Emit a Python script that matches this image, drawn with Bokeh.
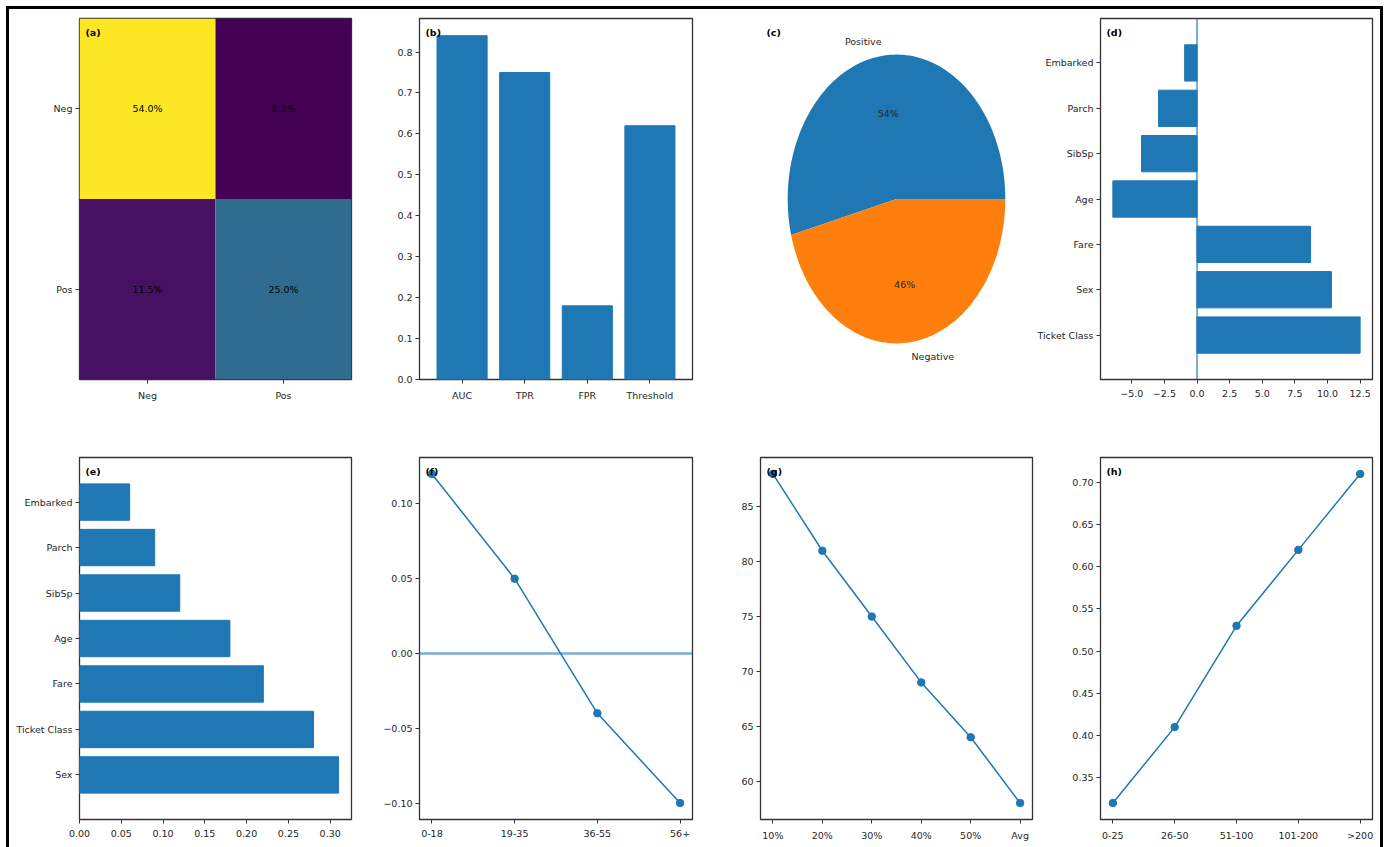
import numpy as np
from bokeh.plotting import figure
from bokeh.models import (FactorRange, Range1d, FixedTicker, CustomJSTickFormatter,
                          Label, Span, LinearColorMapper, ColumnDataSource)
from bokeh.layouts import column, row
from bokeh.palettes import Viridis256
from bokeh.embed import file_html
from bokeh.resources import INLINE
from bokeh.core.properties import value

# ---------------- data ----------------
cm_labels = ["Neg", "Pos"]
cm_actual = ["Neg", "Neg", "Pos", "Pos"]
cm_pred = ["Neg", "Pos", "Neg", "Pos"]
cm_pct = [54.0, 9.5, 11.5, 25.0]

metric_names = ["AUC", "TPR", "FPR", "Threshold"]
metric_vals = [0.84, 0.75, 0.18, 0.62]

pie_labels = ["Positive", "Negative"]
pie_vals = [54, 46]

feat_d = ["Ticket Class", "Sex", "Fare", "Age", "SibSp", "Parch", "Embarked"]
coef_d = [12.5, 10.3, 8.7, -6.45, -4.25, -2.95, -0.95]

feat_e = ["Sex", "Ticket Class", "Fare", "Age", "SibSp", "Parch", "Embarked"]
imp_e = [0.31, 0.28, 0.22, 0.18, 0.12, 0.09, 0.06]

age_groups = ["0-18", "19-35", "36-55", "56+"]
age_effect = [0.12, 0.05, -0.04, -0.10]

miss_levels = ["10%", "20%", "30%", "40%", "50%", "Avg"]
miss_acc = [88, 81, 75, 69, 64, 58]

fare_bins = ["0-25", "26-50", "51-100", "101-200", ">200"]
fare_surv = [0.32, 0.41, 0.53, 0.62, 0.71]

b_ticks = [0.0, 0.1, 0.2, 0.3, 0.4, 0.5, 0.6, 0.7, 0.8]
d_ticks = [-5.0, -2.5, 0.0, 2.5, 5.0, 7.5, 10.0, 12.5]
e_ticks = [0.0, 0.05, 0.10, 0.15, 0.20, 0.25, 0.30]
f_ticks = [-0.10, -0.05, 0.0, 0.05, 0.10]
g_ticks = [60, 65, 70, 75, 80, 85]
h_ticks = [0.35, 0.40, 0.45, 0.50, 0.55, 0.60, 0.65, 0.70]

# ---------------- style ----------------
FONT = "DejaVu Sans"
FS = "9.5px"
TXT = "#262626"
C0 = "#1f77b4"
C1 = "#ff7f0e"


def fmt(nd):
    return CustomJSTickFormatter(code="return tick.toFixed(%d).replace('-', '\u2212');" % nd)


def make_fig(w, h, l, r, t, b, x_range, y_range):
    p = figure(width=w, height=h, x_range=x_range, y_range=y_range,
               toolbar_location=None, output_backend="svg",
               min_border_left=l, min_border_right=r,
               min_border_top=t, min_border_bottom=b)
    p.grid.visible = False
    p.outline_line_color = "#333333"
    p.outline_line_width = 1.3
    p.background_fill_color = "white"
    p.border_fill_color = "white"
    for ax in p.axis:
        ax.axis_line_color = None
        ax.major_tick_in = 0
        ax.major_tick_out = 4
        ax.major_tick_line_color = "#333333"
        ax.minor_tick_line_color = None
        ax.major_label_text_font = FONT
        ax.major_label_text_font_size = FS
        ax.major_label_text_color = TXT
        ax.major_label_standoff = 3
    p.xaxis.major_label_standoff = 6
    return p


def tag(p, txt, frame_h):
    p.add_layout(Label(x=6, y=frame_h - 14, x_units="screen", y_units="screen",
                       text=txt, text_font=FONT, text_font_size=FS,
                       text_font_style="bold", text_color="black",
                       text_baseline="alphabetic"))


TOP_H, TOP_T, TOP_B = 411, 9, 41
BOT_H, BOT_T, BOT_B = 427, 37, 28
TOP_FH = TOP_H - TOP_T - TOP_B
BOT_FH = BOT_H - BOT_T - BOT_B

# ---------------- (a) confusion matrix ----------------
pa = make_fig(351, TOP_H, 70, 9, TOP_T, TOP_B,
              FactorRange(factors=cm_labels), FactorRange(factors=cm_labels[::-1]))
mapper = LinearColorMapper(palette=Viridis256, low=min(cm_pct), high=max(cm_pct))
src_a = ColumnDataSource(dict(x=cm_pred, y=cm_actual, v=cm_pct,
                              t=["%.1f%%" % v for v in cm_pct]))
pa.rect(x="x", y="y", width=1, height=1, source=src_a,
        fill_color={"field": "v", "transform": mapper}, line_color=None)
pa.text(x="x", y="y", text="t", source=src_a, text_align="center", text_baseline="middle",
        text_font=value(FONT), text_font_size=FS, text_color="black")
tag(pa, "(a)", TOP_FH)

# ---------------- (b) metrics bars ----------------
pb = make_fig(340, TOP_H, 59, 8, TOP_T, TOP_B,
              FactorRange(factors=metric_names, range_padding=0.18, range_padding_units="absolute"),
              Range1d(0, max(metric_vals) * 1.05))
pb.vbar(x=metric_names, top=metric_vals, width=0.8, color=C0)
pb.yaxis.ticker = FixedTicker(ticks=b_ticks)
pb.yaxis.formatter = fmt(1)
tag(pb, "(b)", TOP_FH)

# ---------------- (c) pie ----------------
pc = make_fig(332, TOP_H, 60, 0, TOP_T, TOP_B, Range1d(-1.25, 1.25), Range1d(-1.25, 1.25))
pc.axis.visible = False
pc.outline_line_color = None
fr = np.cumsum([0] + pie_vals) / float(sum(pie_vals)) * 2 * np.pi
xs, ys = [], []
for i in range(len(pie_vals)):
    t = np.linspace(fr[i], fr[i + 1], 120)
    xs.append([0.0] + list(np.cos(t)))
    ys.append([0.0] + list(np.sin(t)))
pc.patches(xs, ys, fill_color=[C0, C1], line_color=None)
for i, lab in enumerate(pie_labels):
    mid = 0.5 * (fr[i] + fr[i + 1])
    lx, ly = 1.1 * np.cos(mid), 1.1 * np.sin(mid)
    pc.text(x=[lx], y=[ly], text=[lab], text_align="right" if lx < 0 else "left",
            text_baseline="middle", text_font=value(FONT), text_font_size=FS, text_color=TXT)
    px, py = 0.6 * np.cos(mid), 0.6 * np.sin(mid)
    pc.text(x=[px], y=[py], text=["%d%%" % round(pie_vals[i] * 100.0 / sum(pie_vals))],
            text_align="center", text_baseline="middle", text_font=value(FONT),
            text_font_size=FS, text_color=TXT)
tag(pc, "(c)", TOP_FH)

# ---------------- (d) coefficients ----------------
d_span = max(coef_d) - min(coef_d)
pd_ = make_fig(348, TOP_H, 68, 8, TOP_T, TOP_B,
               Range1d(min(coef_d) - 0.05 * d_span, max(coef_d) + 0.05 * d_span),
               FactorRange(factors=feat_d, range_padding=0.48, range_padding_units="absolute"))
pd_.hbar(y=feat_d, left=0, right=coef_d, height=0.8, color=C0)
pd_.add_layout(Span(location=0, dimension="height", line_color=C0, line_alpha=0.6, line_width=2))
pd_.xaxis.ticker = FixedTicker(ticks=d_ticks)
pd_.xaxis.formatter = fmt(1)
tag(pd_, "(d)", TOP_FH)

# ---------------- (e) importances ----------------
pe = make_fig(351, BOT_H, 70, 9, BOT_T, BOT_B,
              Range1d(0, max(imp_e) * 1.05),
              FactorRange(factors=feat_e, range_padding=0.48, range_padding_units="absolute"))
pe.hbar(y=feat_e, left=0, right=imp_e, height=0.8, color=C0)
pe.xaxis.ticker = FixedTicker(ticks=e_ticks)
pe.xaxis.formatter = fmt(2)
tag(pe, "(e)", BOT_FH)


def line_panel(w, l, r, cats, vals, ticks, nd, label):
    n = len(cats)
    span = max(vals) - min(vals)
    p = make_fig(w, BOT_H, l, r, BOT_T, BOT_B,
                 Range1d(-0.05 * (n - 1), (n - 1) * 1.05),
                 Range1d(min(vals) - 0.05 * span, max(vals) + 0.05 * span))
    idx = list(range(n))
    p.line(idx, vals, line_color=C0, line_width=1.5)
    p.scatter(idx, vals, size=7.5, color=C0)
    p.xaxis.ticker = FixedTicker(ticks=idx)
    p.xaxis.major_label_overrides = {i: c for i, c in zip(idx, cats)}
    p.yaxis.ticker = FixedTicker(ticks=ticks)
    p.yaxis.formatter = fmt(nd)
    tag(p, label, BOT_FH)
    return p


pf = line_panel(340, 59, 8, age_groups, age_effect, f_ticks, 2, "(f)")
pf.add_layout(Span(location=0, dimension="width", line_color=C0, line_alpha=0.6, line_width=2.5))
pg = line_panel(340, 60, 8, miss_levels, miss_acc, g_ticks, 0, "(g)")
ph = line_panel(340, 60, 8, fare_bins, fare_surv, h_ticks, 2, "(h)")

layout = column(row(pa, pb, pc, pd_, spacing=0), row(pe, pf, pg, ph, spacing=0), spacing=0,
                margin=(6, 0, 0, 6),
                styles={"border-top": "3px solid black", "border-left": "3px solid black",
                        "border-right": "3px solid black"})

open("out.html", "w").write(file_html(layout, INLINE))
